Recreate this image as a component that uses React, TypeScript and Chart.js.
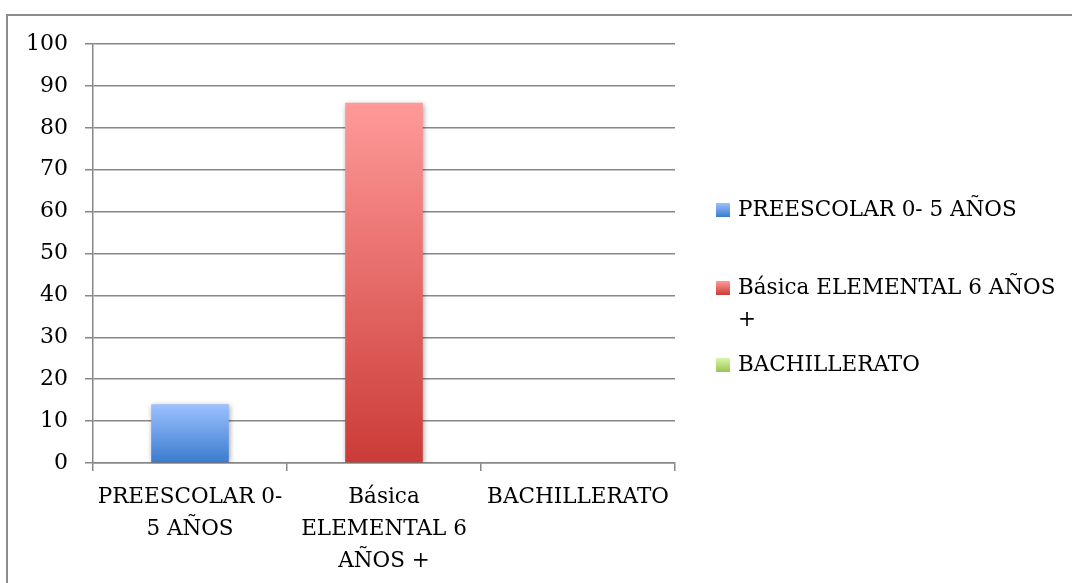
import React, { useEffect, useRef } from "react";
import { Chart, registerables } from "chart.js";

Chart.register(...registerables);

const categories = ["PREESCOLAR 0- 5 AÑOS", "Básica ELEMENTAL 6 AÑOS +", "BACHILLERATO"];
const tickLabels = [["PREESCOLAR 0-", "5 AÑOS"], ["Básica", "ELEMENTAL 6", "AÑOS +"], ["BACHILLERATO"]];
const legendLabels = [["PREESCOLAR 0- 5 AÑOS"], ["Básica ELEMENTAL 6 AÑOS", "+"], ["BACHILLERATO"]];
const values = [14, 86, 0];
const yTicks = [0, 10, 20, 30, 40, 50, 60, 70, 80, 90, 100];
const topColors = ["#9cc1ff", "#ff9a99", "#d9f6ab"];
const bottomColors = ["#3a7bcf", "#cb3b37", "#98c450"];

const FONT = "'DejaVu Serif', serif";
const FSIZE = 21.5;
const YSIZE = 22;
const GRID = "#878787";

const framePlugin = {
  id: "frame",
  beforeDraw(chart: any) {
    const c = chart.ctx;
    c.save();
    c.fillStyle = "#ffffff";
    c.fillRect(0, 0, chart.width, chart.height);
    c.strokeStyle = "#8c8c8c";
    c.lineWidth = 2;
    c.beginPath();
    c.moveTo(7, chart.height + 5);
    c.lineTo(7, 15);
    c.lineTo(chart.width + 5, 15);
    c.stroke();
    c.restore();
  },
  beforeDatasetsDraw(chart: any) {
    const c = chart.ctx;
    c.save();
    c.shadowColor = "rgba(0,0,0,0.35)";
    c.shadowBlur = 5;
    c.shadowOffsetX = 1;
    c.shadowOffsetY = 1;
  },
  afterDatasetsDraw(chart: any) {
    chart.ctx.restore();
  },
  afterDraw(chart: any) {
    const c = chart.ctx;
    const boxX = 716;
    const textX = 738;
    const lineH = 32;
    const centers = [210, 288, 365];
    c.save();
    c.font = FSIZE + "px " + FONT;
    c.textBaseline = "middle";
    c.textAlign = "left";
    legendLabels.forEach((lines, i) => {
      const cy = centers[i];
      const g = c.createLinearGradient(0, cy - 7, 0, cy + 7);
      g.addColorStop(0, topColors[i]);
      g.addColorStop(1, bottomColors[i]);
      c.fillStyle = g;
      c.fillRect(boxX, cy - 7, 14, 14);
      c.fillStyle = "#000000";
      lines.forEach((ln, j) => {
        c.fillText(ln, textX, cy + j * lineH);
      });
    });
    c.restore();
  },
};

export default function App() {
  const ref = useRef<HTMLCanvasElement | null>(null);

  useEffect(() => {
    if (!ref.current) return;
    const chart = new Chart(ref.current, {
      type: "bar",
      data: {
        labels: categories,
        datasets: [
          {
            label: "Serie",
            data: values,
            borderWidth: 0,
            backgroundColor: (ctx: any) => {
              const ch = ctx.chart;
              const i = ctx.dataIndex ?? 0;
              if (!ch.chartArea || ctx.type !== "data") return topColors[i];
              const y = ch.scales.y;
              const yTop = y.getPixelForValue(values[i]);
              const yBot = y.getPixelForValue(0);
              if (yBot - yTop < 1) return bottomColors[i];
              const g = ch.ctx.createLinearGradient(0, yTop, 0, yBot);
              g.addColorStop(0, topColors[i]);
              g.addColorStop(1, bottomColors[i]);
              return g;
            },
            categoryPercentage: 1,
            barPercentage: 0.4,
          },
        ],
      },
      options: {
        animation: false,
        responsive: true,
        maintainAspectRatio: false,
        layout: { padding: { left: 0, top: 44, right: 397, bottom: 0 } },
        plugins: {
          legend: { display: false },
          tooltip: { enabled: false },
          title: { display: false },
        },
        scales: {
          x: {
            afterFit: (s: any) => {
              s.height = 120;
            },
            grid: {
              display: true,
              offset: true,
              drawOnChartArea: false,
              drawTicks: true,
              tickLength: 8,
              color: GRID,
              lineWidth: 1.5,
            },
            border: { display: true, color: GRID, width: 1.5 },
            ticks: {
              color: "#000000",
              padding: 10,
              maxRotation: 0,
              autoSkip: false,
              font: { family: FONT, size: FSIZE, lineHeight: 32 / FSIZE },
              callback: (_v: any, i: number) => tickLabels[i],
            },
          },
          y: {
            min: 0,
            max: 100,
            afterFit: (s: any) => {
              s.width = 93;
            },
            afterBuildTicks: (s: any) => {
              s.ticks = yTicks.map((v) => ({ value: v }));
            },
            grid: {
              color: GRID,
              lineWidth: 1.5,
              drawTicks: true,
              tickLength: 8,
            },
            border: { display: true, color: GRID, width: 1.5 },
            ticks: {
              color: "#000000",
              padding: 17,
              font: { family: FONT, size: YSIZE, lineHeight: 32 / YSIZE },
            },
          },
        },
      },
      plugins: [framePlugin],
    });
    return () => chart.destroy();
  }, []);

  return (
    <div style={{ position: "fixed", left: 0, top: 0, width: 1072, height: 583 }}>
      <canvas ref={ref} />
    </div>
  );
}
